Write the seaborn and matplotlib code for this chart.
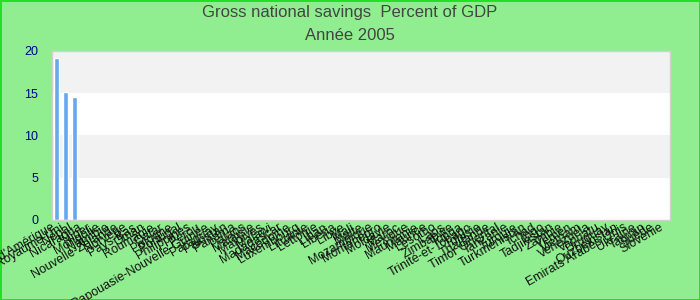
import matplotlib
matplotlib.use("Agg")
import matplotlib.pyplot as plt
import seaborn as sns
import pandas as pd
import numpy as np

title = "Gross national savings  Percent of GDP"
subtitle = "Année 2005"

countries = [
    "Etats-Unis d'Amérique", "Royaume-Uni", "Népal", "Nicaragua", "Niger", "Mongolie",
    "Namibie", "Nouvelle-Zélande", "Norvège", "Pays-Bas", "Oman", "Roumanie", "Qatar",
    "Pologne", "Portugal", "Philippines", "Pérou", "Papouasie-Nouvelle-Guinée",
    "Paraguay", "Pakistan", "Panama", "Palaos", "Malaisie", "Maldives", "Malawi",
    "Madagascar", "Macédoine", "Luxembourg", "Lituanie", "Lettonie", "Liban", "Libéria",
    "Libye", "Mali", "Malte", "Mozambique", "Monténégro", "Moldavie", "Maroc", "Mexique",
    "Mauritanie", "Maurice", "Lesotho", "Laos", "Zimbabwe", "Tonga", "Trinité-et-Tobago",
    "Tunisie", "Thaïlande", "Timor Oriental", "Tanzanie", "Turquie", "Turkménistan",
    "Tchad", "Togo", "Tadjikistan", "Zambie", "Yémen", "Vietnam", "Venezuela", "Vanuatu",
    "Uruguay", "Ouzbékistan", "Emirats Arabes Unis", "Ukraine", "Taïwan", "Suède",
    "Slovénie",
]
known_values = [19.2, 15.1, 14.5]
values = known_values + [np.nan] * (len(countries) - len(known_values))

yticks = [0, 5, 10, 15, 20]

df = pd.DataFrame({"pays": countries, "valeur": values})

sns.set_theme(style="white")
plt.rcParams["font.family"] = ["Liberation Sans", "DejaVu Sans"]

fig = plt.figure(figsize=(7, 3), dpi=100, facecolor="#90EE90",
                 edgecolor="#22E022", linewidth=2)
ax = fig.add_axes([52/700, 1 - 220/300, 618/700, 169/300])
ax.set_facecolor("white")

# alternating bands
for i in range(len(yticks) - 1):
    if i % 2 == 1:
        ax.axhspan(yticks[i], yticks[i + 1], color="#F2F2F2", zorder=0, lw=0)

sns.barplot(data=df, x="pays", y="valeur", color="#64A8F0", saturation=1,
            width=0.55, ax=ax, zorder=2)

ax.set_ylim(0, 20)
ax.set_xlim(-0.5, len(countries) - 0.5)
ax.set_yticks(yticks)
ax.set_yticklabels([str(t) for t in yticks], color="#00008B", fontsize=9)
ax.tick_params(axis="y", length=0, pad=10)
ax.tick_params(axis="x", length=0, pad=1)
ax.set_xticks(range(len(countries)))
ax.set_xticklabels(countries, rotation=30, ha="right", fontsize=9, color="#111111")
ax.set_xlabel("")
ax.set_ylabel("")
for s in ax.spines.values():
    s.set_color("#D0D0D0")
    s.set_linewidth(1)

fig.text(0.5, 1 - 12/300, title, ha="center", va="center", fontsize=12, color="#444444")
fig.text(0.5, 1 - 35/300, subtitle, ha="center", va="center", fontsize=12, color="#444444")

fig.savefig("out.png", dpi=100, facecolor=fig.get_facecolor(), edgecolor=fig.get_edgecolor())
